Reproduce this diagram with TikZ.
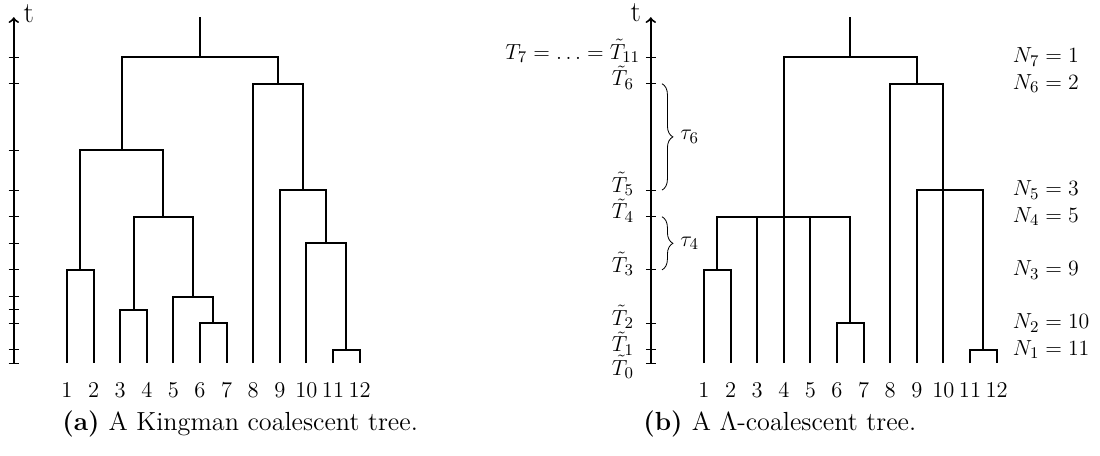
\documentclass[tikz,border=0pt]{standalone}
\usetikzlibrary{decorations.pathreplacing}
\begin{document}
\begin{tikzpicture}[x=0.55pt,y=-0.55pt,
  branch/.style={line width=1.1pt},
  axisline/.style={line width=1.1pt,->},
  tickmark/.style={line width=0.5pt},
  labfont/.style={font=\fontsize{12.4}{14}\selectfont},
  leaflab/.style={labfont,inner sep=0pt,anchor=center},
  timelab/.style={labfont,inner sep=0pt,anchor=base east,yshift=-1.2pt},
  nlab/.style={labfont,inner sep=0pt,anchor=west},
  taulab/.style={labfont,inner sep=0pt,anchor=west},
  tlab/.style={font=\fontsize{16}{18}\selectfont,inner sep=0pt},
  bracedec/.style={line width=0.45pt,decorate,decoration={brace,amplitude=6pt}},
  caplab/.style={font=\fontsize{14.4}{17}\selectfont,inner sep=0pt,anchor=base west}]
\useasboundingbox (0,0) rectangle (1100,455);

% ---------------- left panel: Kingman ----------------
\begin{scope}[shift={(67,363)},x=7.315pt,y=7.315pt]
  \coordinate (KA0) at (-4,0);
  \coordinate (KAt) at (-4,26);
  \draw[axisline] (KA0) -- (KAt);
  \foreach \t in {0,1,3,4,5,7,9,11,13,16,21,23}
    \draw[tickmark] (-4.38,\t) -- (-3.62,\t);
  \node[tlab,anchor=base west] (Kt) at (-3.28,25.6) {t};

  \foreach \i in {1,...,12} {
    \coordinate (Kleaf\i) at ({2*(\i-1)},0);
    \node[leaflab] (Klab\i) at ({2*(\i-1)},-2.05) {\i};
  }
  \coordinate (Km1112) at (21,1);
  \coordinate (Km67) at (11,3);
  \coordinate (Km34) at (5,4);
  \coordinate (Km567) at (9.5,5);
  \coordinate (Km12) at (1,7);
  \coordinate (Km1012) at (19.5,9);
  \coordinate (Km37) at (7.25,11);
  \coordinate (Km912) at (17.75,13);
  \coordinate (Km17) at (4.125,16);
  \coordinate (Km812) at (15.875,21);
  \coordinate (Kroot) at (10,23);
  \coordinate (Ktop) at (10,26);

  \draw[branch] (Kleaf11) |- (Km1112) -| (Kleaf12);
  \draw[branch] (Kleaf6) |- (Km67) -| (Kleaf7);
  \draw[branch] (Kleaf3) |- (Km34) -| (Kleaf4);
  \draw[branch] (Kleaf5) |- (Km567) -| (Km67);
  \draw[branch] (Kleaf1) |- (Km12) -| (Kleaf2);
  \draw[branch] (Kleaf10) |- (Km1012) -| (Km1112);
  \draw[branch] (Km34) |- (Km37) -| (Km567);
  \draw[branch] (Kleaf9) |- (Km912) -| (Km1012);
  \draw[branch] (Km12) |- (Km17) -| (Km37);
  \draw[branch] (Kleaf8) |- (Km812) -| (Km912);
  \draw[branch] (Km17) |- (Kroot) -| (Km812);
  \draw[branch] (Kroot) -- (Ktop);
\end{scope}

% ---------------- right panel: Lambda ----------------
\begin{scope}[shift={(704,363)},x=7.315pt,y=7.315pt]
  \coordinate (LA0) at (-4,0);
  \coordinate (LAt) at (-4,26);
  \draw[axisline] (LA0) -- (LAt);
  \foreach \t in {0,1,3,7,11,13,21,23}
    \draw[tickmark] (-4.38,\t) -- (-3.62,\t);
  \node[tlab,anchor=base east] (Lt) at (-4.72,25.7) {t};

  \node[timelab] (T11) at (-4.78,23) {$T_7=\ldots=\tilde{T}_{11}$};
  \node[timelab] (T6) at (-5.25,21) {$\tilde{T}_6$};
  \node[timelab] (T5) at (-5.25,13) {$\tilde{T}_5$};
  \node[timelab] (T4) at (-5.25,11) {$\tilde{T}_4$};
  \node[timelab] (T3) at (-5.25,7) {$\tilde{T}_3$};
  \node[timelab] (T2) at (-5.25,3) {$\tilde{T}_2$};
  \node[timelab] (T1) at (-5.25,1) {$\tilde{T}_1$};
  \node[timelab,yshift=-5.4pt] (T0) at (-5.25,0) {$\tilde{T}_0$};

  \draw[bracedec] (-3.16,21) -- (-3.16,13);
  \node[taulab] (tau6) at (-1.8,17) {$\tau_6$};
  \draw[bracedec] (-3.16,11) -- (-3.16,7);
  \node[taulab] (tau4) at (-1.8,9) {$\tau_4$};

  \node[nlab] (N7) at (23.2,23) {$N_7=1$};
  \node[nlab] (N6) at (23.2,21) {$N_6=2$};
  \node[nlab] (N5) at (23.2,13) {$N_5=3$};
  \node[nlab] (N4) at (23.2,11) {$N_4=5$};
  \node[nlab] (N3) at (23.2,7) {$N_3=9$};
  \node[nlab] (N2) at (23.2,3) {$N_2=10$};
  \node[nlab] (N1) at (23.2,1) {$N_1=11$};

  \foreach \i in {1,...,12} {
    \coordinate (Lleaf\i) at ({2*(\i-1)},0);
    \node[leaflab] (Llab\i) at ({2*(\i-1)},-2.05) {\i};
  }
  \coordinate (Lm1112) at (21,1);
  \coordinate (Lm67) at (11,3);
  \coordinate (Lm12) at (1,7);
  \coordinate (LmA) at (6,11);
  \coordinate (LmB) at (18,13);
  \coordinate (LmC) at (16,21);
  \coordinate (Lroot) at (11,23);
  \coordinate (Ltop) at (11,26);

  \draw[branch] (Lleaf11) |- (Lm1112) -| (Lleaf12);
  \draw[branch] (Lleaf6) |- (Lm67) -| (Lleaf7);
  \draw[branch] (Lleaf1) |- (Lm12) -| (Lleaf2);
  \draw[branch] (Lm12) |- (LmA) -| (Lm67);
  \draw[branch] (Lleaf3) -- (Lleaf3 |- LmA);
  \draw[branch] (Lleaf4) -- (LmA);
  \draw[branch] (Lleaf5) -- (Lleaf5 |- LmA);
  \draw[branch] (Lleaf9) |- (LmB) -| (Lm1112);
  \draw[branch] (Lleaf10) -- (LmB);
  \draw[branch] (Lleaf8) |- (LmC) -| (LmB);
  \draw[branch] (LmA) |- (Lroot) -| (LmC);
  \draw[branch] (Lroot) -- (Ltop);
\end{scope}

% ---------------- captions ----------------
\node[caplab] (capa) at (62,430) {\textbf{(a)}\hspace{5pt}A Kingman coalescent tree.};
\node[caplab] (capb) at (643,430) {\textbf{(b)}\hspace{5pt}A $\Lambda$-coalescent tree.};
\end{tikzpicture}
\end{document}
